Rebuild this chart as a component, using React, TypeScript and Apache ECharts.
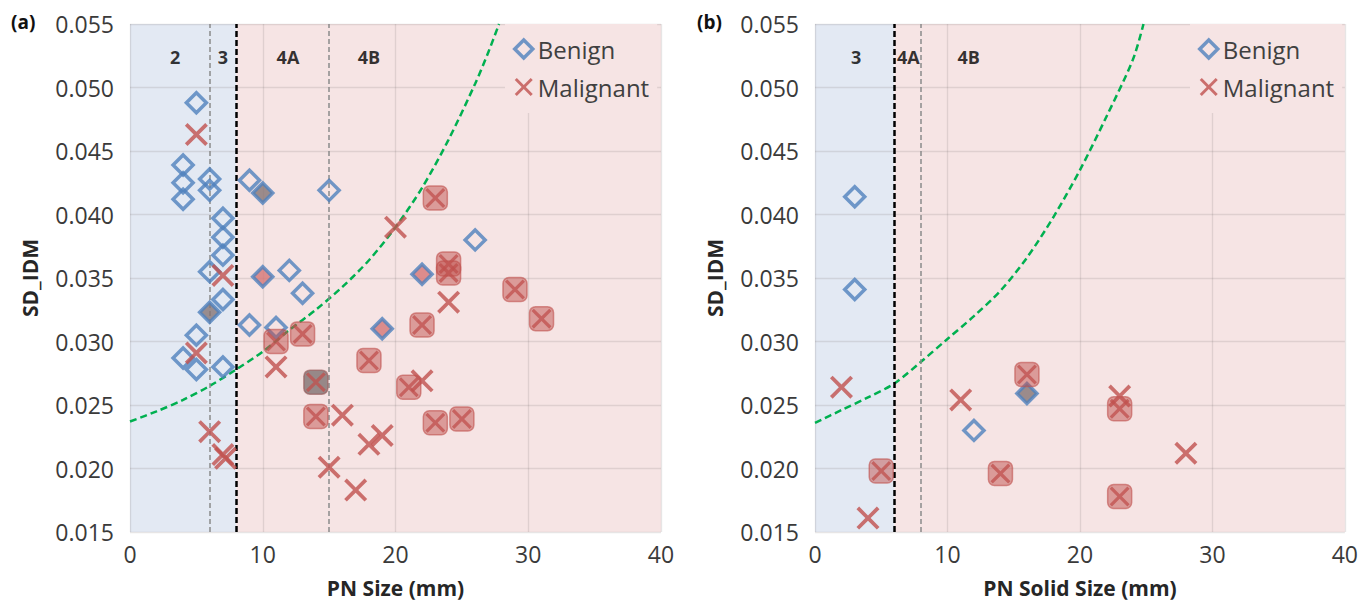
import React, { useEffect, useRef } from "react";
import * as echarts from "echarts";

// ---------- data ----------
const xTicks = [0, 10, 20, 30, 40];
const yTicks = [0.015, 0.02, 0.025, 0.03, 0.035, 0.04, 0.045, 0.05, 0.055];

// Panel (a): PN Size
const benignA: [number, number][] = [
  [5, 0.0488], [4, 0.0439], [4, 0.0425], [4, 0.0412], [6, 0.0428], [6, 0.0419],
  [7, 0.0397], [7, 0.0382], [7, 0.0368], [6, 0.0355], [7, 0.0333], [9, 0.0427],
  [15, 0.0419], [12, 0.0356], [13, 0.0338], [9, 0.0313], [11, 0.0311], [5, 0.0305],
  [4, 0.0287], [5, 0.0278], [7, 0.028], [26, 0.038],
];
const benignRedFillA: [number, number][] = [[10, 0.0351], [22, 0.0353], [19, 0.031]];
const benignGrayFillA: [number, number][] = [[6, 0.0323], [10, 0.0417]];
const malignantA: [number, number][] = [
  [5, 0.0463], [7, 0.0352], [5, 0.0291], [6, 0.0229], [7, 0.0211], [7.2, 0.0208],
  [11, 0.028], [20, 0.039], [24, 0.0331], [16, 0.0242], [15, 0.0201], [17, 0.0183],
  [18, 0.0219], [19, 0.0226], [22, 0.0269],
];
const malignantBoxA: [number, number][] = [
  [23, 0.0413], [24, 0.0361], [24, 0.0354], [22, 0.0313], [18, 0.0285], [11, 0.03],
  [13, 0.0306], [14, 0.0241], [21, 0.0264], [23, 0.0236], [25, 0.0239], [29, 0.0341],
  [31, 0.0318],
];
const malignantGrayBoxA: [number, number][] = [[14, 0.0268]];
const curveA: [number, number][] = [
  [0, 0.0237], [2, 0.0245], [4, 0.0254], [6, 0.0265], [8, 0.0278], [10, 0.0292],
  [12, 0.0309], [14, 0.0325], [16, 0.0343], [18, 0.0364], [20, 0.039], [22, 0.0421],
  [24, 0.0459], [26, 0.0503], [27, 0.0528], [27.8, 0.055],
];
const zonesA = [
  { label: "2", x: 3.4 }, { label: "3", x: 7.0 }, { label: "4A", x: 11.9 }, { label: "4B", x: 18.0 },
];
const boundaryA = 8;
const minorLinesA = [6, 15];

// Panel (b): PN Solid Size
const benignB: [number, number][] = [[3, 0.0414], [3, 0.0341], [12, 0.023]];
const benignRedFillB: [number, number][] = [];
const benignGrayFillB: [number, number][] = [[16, 0.0259]];
const malignantB: [number, number][] = [[2, 0.0264], [4, 0.0161], [11, 0.0254], [28, 0.0212], [23, 0.0257]];
const malignantBoxB: [number, number][] = [[5, 0.0198], [14, 0.0196], [16, 0.0274], [23, 0.0247], [23, 0.0178]];
const malignantGrayBoxB: [number, number][] = [];
const curveB: [number, number][] = [
  [0, 0.0236], [2, 0.0246], [4, 0.0256], [6, 0.0267], [8, 0.0284], [10, 0.0302],
  [12, 0.032], [14, 0.034], [16, 0.0366], [18, 0.0398], [20, 0.0435], [22, 0.0477],
  [24, 0.0522], [24.8, 0.055],
];
const zonesB = [{ label: "3", x: 3.1 }, { label: "4A", x: 7.05 }, { label: "4B", x: 11.6 }];
const boundaryB = 6;
const minorLinesB = [8];

const zoneLabelY = 0.0524;
const xNames = ["PN Size (mm)", "PN Solid Size (mm)"];
const yName = "SD_IDM";
const panelTags = ["(a)", "(b)"];

// ---------- styles ----------
const FONT = "Open Sans";
const BLUE = "#4f81bd";
const RED = "#c0504d";
const BG_BLUE = "#e3e9f3";
const BG_PINK = "#f6e4e4";
const XPATH =
  "path://M11.5,0 L50,38.5 L88.5,0 L100,11.5 L61.5,50 L100,88.5 L88.5,100 L50,61.5 L11.5,100 L0,88.5 L38.5,50 L0,11.5 Z";

const panels = [
  {
    benign: benignA, benignRed: benignRedFillA, benignGray: benignGrayFillA,
    mal: malignantA, box: malignantBoxA, grayBox: malignantGrayBoxA,
    curve: curveA, zones: zonesA, boundary: boundaryA, minor: minorLinesA,
  },
  {
    benign: benignB, benignRed: benignRedFillB, benignGray: benignGrayFillB,
    mal: malignantB, box: malignantBoxB, grayBox: malignantGrayBoxB,
    curve: curveB, zones: zonesB, boundary: boundaryB, minor: minorLinesB,
  },
];

function buildOption() {
  const series: any[] = [];
  panels.forEach((p, i) => {
    const ax = { xAxisIndex: i, yAxisIndex: i };
    series.push({
      type: "line", ...ax, name: "bg" + i, data: [], z: 1, silent: true,
      markArea: {
        silent: true,
        data: [
          [{ xAxis: xTicks[0], yAxis: yTicks[0], itemStyle: { color: BG_BLUE } }, { xAxis: p.boundary, yAxis: yTicks[yTicks.length - 1] }],
          [{ xAxis: p.boundary, yAxis: yTicks[0], itemStyle: { color: BG_PINK } }, { xAxis: xTicks[xTicks.length - 1], yAxis: yTicks[yTicks.length - 1] }],
        ],
      },
      markLine: {
        silent: true, symbol: ["none", "none"], label: { show: false },
        data: [
          ...p.minor.map((v) => ({ xAxis: v, lineStyle: { color: "#8a8a8a", type: [5, 3], width: 1.5 } })),
          { xAxis: p.boundary, lineStyle: { color: "#000", type: [6, 3], width: 2.5 } },
        ],
      },
    });
    series.push({
      type: "line", ...ax, name: "curve" + i, data: p.curve, smooth: 0.3, symbol: "none", z: 4, silent: true,
      lineStyle: { color: "#00b050", width: 2.5, type: [7, 4] },
    });
    series.push({
      type: "scatter", ...ax, name: "zones" + i, silent: true, z: 4, symbolSize: 1,
      itemStyle: { color: "rgba(0,0,0,0)" },
      data: p.zones.map((z) => ({ name: z.label, value: [z.x, zoneLabelY] })),
      label: {
        show: true, position: "inside", formatter: (d: any) => d.name, fontFamily: FONT,
        fontWeight: "bold", fontSize: 18, color: "#000", textBorderWidth: 0,
      },
    });
    series.push({
      type: "scatter", ...ax, name: "Benign", data: p.benign, symbol: "diamond", symbolSize: 20, z: 5,
      itemStyle: { color: "rgba(0,0,0,0)", borderColor: BLUE, borderWidth: 3.5 },
    });
    series.push({
      type: "scatter", ...ax, name: "benignRed" + i, data: p.benignRed, symbol: "diamond", symbolSize: 20, z: 5,
      itemStyle: { color: "#d67676", borderColor: BLUE, borderWidth: 3.5 },
    });
    series.push({
      type: "scatter", ...ax, name: "benignGray" + i, data: p.benignGray, symbol: "diamond", symbolSize: 20, z: 5,
      itemStyle: { color: "#857474", borderColor: BLUE, borderWidth: 3.5 },
    });
    series.push({
      type: "scatter", ...ax, name: "box" + i, data: p.box, symbol: "roundRect", symbolSize: 24, z: 6,
      itemStyle: { color: "rgba(192,80,77,0.62)", borderColor: "rgba(192,80,77,0.75)", borderWidth: 1.5 },
    });
    series.push({
      type: "scatter", ...ax, name: "grayBox" + i, data: p.grayBox, symbol: "roundRect", symbolSize: 24, z: 6,
      itemStyle: { color: "rgba(110,98,98,0.88)", borderColor: "rgba(150,90,90,0.8)", borderWidth: 1.5 },
    });
    series.push({
      type: "scatter", ...ax, name: "Malignant", data: p.mal, symbol: XPATH, symbolSize: 23, z: 7,
      itemStyle: { color: RED },
    });
    series.push({
      type: "scatter", ...ax, name: "boxX" + i, data: [...p.box, ...p.grayBox], symbol: XPATH, symbolSize: 20, z: 7,
      itemStyle: { color: "rgba(192,80,77,0.95)" },
    });
  });

  const legendData = [
    { name: "Benign", icon: "diamond", itemStyle: { color: "rgba(0,0,0,0)", borderColor: BLUE, borderWidth: 3.5 } },
    { name: "Malignant", icon: XPATH, itemStyle: { color: RED, borderWidth: 0 } },
  ];
  const legend = [505, 1190].map((left) => ({
    orient: "vertical", left, top: 24, data: legendData, itemWidth: 18, itemHeight: 18, itemGap: 14,
    padding: [13, 8, 14, 8], backgroundColor: BG_PINK, selectedMode: false, z: 5,
    textStyle: { fontFamily: FONT, fontSize: 24, color: "#404040", padding: [0, 0, 0, 0] },
  }));

  return {
    animation: false,
    textStyle: { fontFamily: FONT },
    grid: [
      { left: 130, top: 24, width: 531, height: 508 },
      { left: 815, top: 24, width: 533, height: 508 },
    ],
    xAxis: [0, 1].map((i) => ({
      type: "value", gridIndex: i, min: xTicks[0], max: xTicks[xTicks.length - 1], interval: xTicks[1] - xTicks[0], z: 3,
      name: xNames[i], nameLocation: "middle", nameGap: 45,
      nameTextStyle: { fontFamily: FONT, fontWeight: "bold", fontSize: 21, color: "#262626" },
      axisLine: { show: false }, axisTick: { show: false },
      axisLabel: { fontFamily: FONT, fontSize: 23, color: "#3a3a3a", margin: 10 },
      splitLine: { show: true, lineStyle: { color: "rgba(120,110,110,0.18)", width: 1.3 } },
    })),
    yAxis: [0, 1].map((i) => ({
      type: "value", gridIndex: i, min: yTicks[0], max: yTicks[yTicks.length - 1], interval: 0.005, z: 3,
      name: yName, nameLocation: "middle", nameGap: 90,
      nameTextStyle: { fontFamily: FONT, fontWeight: "bold", fontSize: 21, color: "#262626" },
      axisLine: { show: false }, axisTick: { show: false },
      axisLabel: { fontFamily: FONT, fontSize: 23, color: "#3a3a3a", margin: 16, formatter: (v: number) => v.toFixed(3) },
      splitLine: { show: true, lineStyle: { color: "rgba(120,110,110,0.18)", width: 1.3 } },
    })),
    legend,
    graphic: [
      { type: "text", left: 11, top: 12, style: { text: panelTags[0], font: `bold 19px "${FONT}"`, fill: "#111" } },
      { type: "text", left: 697, top: 12, style: { text: panelTags[1], font: `bold 19px "${FONT}"`, fill: "#111" } },
    ],
    series,
  };
}

export default function App() {
  const ref = useRef<HTMLDivElement>(null);
  useEffect(() => {
    if (!ref.current) return;
    const chart = echarts.init(ref.current, undefined, { renderer: "svg" });
    chart.setOption(buildOption() as any);
    return () => chart.dispose();
  }, []);
  return (
    <div
      ref={ref}
      style={{ position: "fixed", left: 0, top: 0, width: 1361, height: 603, background: "#fff" }}
    />
  );
}
